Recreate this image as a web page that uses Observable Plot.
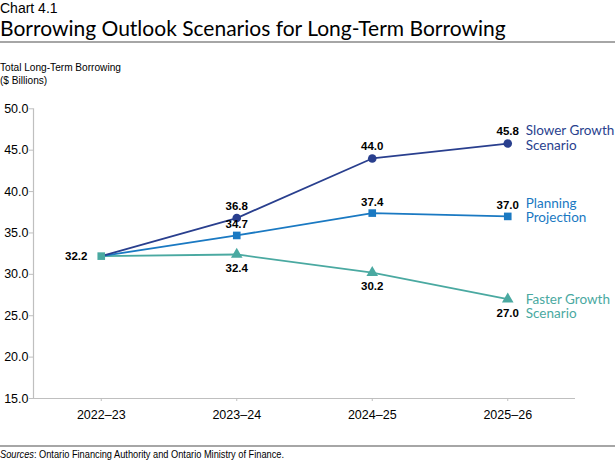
<!DOCTYPE html>
<html>
<head>
<meta charset="utf-8">
<script src="https://cdn.jsdelivr.net/npm/d3@7"></script>
<script src="https://cdn.jsdelivr.net/npm/@observablehq/plot@0.6"></script>
<style>
  html, body { margin: 0; padding: 0; background: #fff; }
  #wrap { position: relative; width: 615px; height: 464px; overflow: hidden; font-family: "Liberation Sans", Arial, sans-serif; }
  .abs { position: absolute; left: 0; white-space: nowrap; }
  .narrow { transform: scaleX(0.88); transform-origin: 0 0; }
  #chartnum { top: 1px; font-size: 14px; line-height: 14px; color: #000; }
  #title { top: 17px; font-family: Lato, "Open Sans", sans-serif; font-size: 21px; line-height: 21px; color: #000; }
  #rule1 { top: 41px; width: 615px; height: 2px; background: #a6a6a6; }
  #ytitle { top: 61px; font-size: 11.5px; line-height: 12.5px; color: #000; }
  #plot { top: 95px; }
  #rule2 { top: 445px; width: 615px; height: 1.5px; background: #a6a6a6; }
  #source { top: 449px; font-size: 10.5px; line-height: 10.5px; color: #000; }
</style>
</head>
<body>
<div id="wrap">
  <div id="chartnum" class="abs">Chart 4.1</div>
  <div id="title" class="abs">Borrowing Outlook Scenarios for Long-Term Borrowing</div>
  <div id="rule1" class="abs"></div>
  <div id="ytitle" class="abs narrow">Total Long-Term Borrowing<br>($ Billions)</div>
  <div id="plot" class="abs"></div>
  <div id="rule2" class="abs"></div>
  <div id="source" class="abs narrow"><i>Sources</i>: Ontario Financing Authority and Ontario Ministry of Finance.</div>
</div>
<script>
const years = ["2022–23", "2023–24", "2024–25", "2025–26"];
const slower = [32.2, 36.8, 44.0, 45.8];
const planning = [32.2, 34.7, 37.4, 37.0];
const faster = [32.2, 32.4, 30.2, 27.0];
const seriesNames = ["Slower Growth\nScenario", "Planning\nProjection", "Faster Growth\nScenario"];
const yTicks = [15, 20, 25, 30, 35, 40, 45, 50];

const colors = {slower: "#293f8e", planning: "#1a79c2", faster: "#4aa9a1"};

function rows(vals, key) { return vals.map((v, i) => ({i, year: years[i], value: v, key})); }
const S = rows(slower, "slower");
const P = rows(planning, "planning");
const F = rows(faster, "faster");

const fam = "'Liberation Sans', Arial, sans-serif";
const labelFont = {fontFamily: fam, fontSize: 11.5, fontWeight: "bold", fill: "#000"};
const legendFont = {fontFamily: "Lato, 'Open Sans', sans-serif", fontSize: 13.5, textAnchor: "start", lineHeight: 1.08};

const plot = Plot.plot({
  width: 615,
  height: 345,
  marginLeft: 33,
  marginRight: 40,
  marginTop: 13.3,
  marginBottom: 42,
  style: {fontFamily: fam, fontSize: "12.5px", color: "#000", background: "transparent"},
  x: {type: "linear", domain: [-0.5, 3.5]},
  y: {domain: [15, 50]},
  marks: [
    Plot.ruleX([-0.5], {stroke: "#bfbfbf", strokeWidth: 1.2}),
    Plot.ruleY([15], {stroke: "#bfbfbf", strokeWidth: 1.2}),
    Plot.axisY({ticks: yTicks, tickFormat: d => d.toFixed(1), tickSize: 4, tickPadding: 1, stroke: "#bfbfbf", label: null, fill: "#000"}),
    Plot.axisX({ticks: years.map((_, i) => i), tickFormat: i => years[i], tickSize: 3, tickPadding: 9, stroke: "#bfbfbf", label: null, fontSize: 12.5}),
    Plot.line(F, {x: "i", y: "value", stroke: colors.faster, strokeWidth: 1.8}),
    Plot.line(P, {x: "i", y: "value", stroke: colors.planning, strokeWidth: 1.8}),
    Plot.line(S, {x: "i", y: "value", stroke: colors.slower, strokeWidth: 1.8}),
    Plot.dot(S.filter(d => d.i > 0), {x: "i", y: "value", symbol: "circle", r: 4.3, fill: colors.slower}),
    Plot.dot(P.filter(d => d.i > 0), {x: "i", y: "value", symbol: "square", r: 4.3, fill: colors.planning}),
    Plot.dot(F.filter(d => d.i > 0), {x: "i", y: "value", symbol: "triangle", r: 4.3, fill: colors.faster}),
    Plot.dot(F.filter(d => d.i === 0), {x: "i", y: "value", symbol: "square", r: 4.3, fill: colors.faster}),
    Plot.text(S.filter(d => d.i > 0), {x: "i", y: "value", text: d => d.value.toFixed(1), dy: -12, ...labelFont}),
    Plot.text(P.filter(d => d.i > 0), {x: "i", y: "value", text: d => d.value.toFixed(1), dy: -11, ...labelFont}),
    Plot.text(F.filter(d => d.i > 0), {x: "i", y: "value", text: d => d.value.toFixed(1), dy: 14, ...labelFont}),
    Plot.text(P.filter(d => d.i === 0), {x: "i", y: "value", text: d => d.value.toFixed(1), dx: -25, ...labelFont}),
    Plot.text(S.filter(d => d.i === 3), {x: "i", y: "value", text: () => seriesNames[0], dx: 18, dy: -6, fill: colors.slower, ...legendFont}),
    Plot.text(P.filter(d => d.i === 3), {x: "i", y: "value", text: () => seriesNames[1], dx: 18, dy: -6, fill: colors.planning, ...legendFont}),
    Plot.text(F.filter(d => d.i === 3), {x: "i", y: "value", text: () => seriesNames[2], dx: 18, dy: 7, fill: colors.faster, ...legendFont})
  ]
});
document.getElementById("plot").appendChild(plot);
</script>
</body>
</html>
